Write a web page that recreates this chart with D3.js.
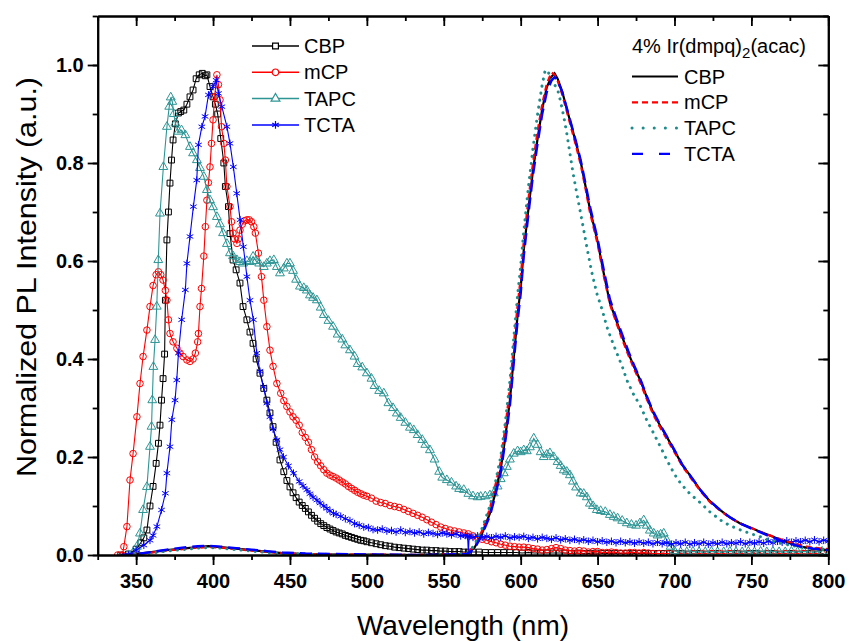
<!DOCTYPE html>
<html>
<head>
<meta charset="utf-8">
<script src="https://cdn.jsdelivr.net/npm/d3@7"></script>
<style>
  body { margin: 0; background: #fff; }
  text { font-family: "Liberation Sans", Arial, sans-serif; }
</style>
</head>
<body>
<svg id="chart"></svg>
<script>
// host fluorescence (with markers), [wavelength nm, normalized PL]
const cbpHost = [[340,0],[345,0.002],[350,0.012],[353,0.025],[355,0.035],[357,0.051],[359,0.1],[361,0.14],[363,0.187],[364.5,0.228],[365.5,0.265],[366.5,0.316],[367.5,0.36],[368.5,0.41],[369,0.52],[370,0.643],[371,0.7],[372,0.759],[373,0.806],[374,0.847],[375.5,0.88],[377.5,0.902],[379,0.905],[381,0.908],[383,0.92],[385,0.935],[387,0.949],[389,0.972],[391,0.98],[393,0.983],[395,0.978],[396,0.98],[398,0.956],[400,0.935],[401.5,0.92],[403,0.9],[405,0.85],[407,0.8],[408,0.752],[410,0.711],[411,0.656],[413,0.602],[415,0.582],[417.5,0.555],[419.5,0.507],[422,0.48],[424,0.455],[426,0.432],[428,0.4],[430.5,0.371],[433,0.34],[435,0.316],[437,0.29],[439,0.262],[441,0.23],[443.5,0.194],[446,0.17],[448,0.152],[450,0.139],[452,0.127],[454,0.117],[456,0.108],[458,0.101],[460,0.095],[462,0.088],[464,0.081],[466,0.075],[468,0.069],[470,0.064],[472,0.06],[474,0.056],[476,0.053],[478,0.05],[480,0.047],[482,0.045],[484,0.043],[486,0.04],[488,0.038],[490,0.036],[492,0.034],[494,0.032],[496,0.03],[498,0.029],[500,0.027],[503,0.025],[506,0.023],[509,0.021],[512,0.019],[515,0.018],[518,0.016],[521,0.015],[524,0.014],[527,0.013],[530,0.012],[533,0.011],[536,0.01],[539,0.01],[542,0.009],[545,0.009],[548,0.008],[551,0.008],[554,0.007],[557,0.007],[560,0.007],[563,0.006],[566,0.006],[569,0.006],[573,0.006],[577,0.005],[581,0.005],[585,0.005],[589,0.005],[593,0.005],[597,0.005],[601,0.004],[605,0.005],[609,0.004],[613,0.004],[617,0.004],[621,0.004],[625,0.004],[629,0.004],[633,0.003],[637,0.004],[641,0.003],[645,0.003],[649,0.004],[653,0.003],[657,0.003],[661,0.003],[665,0.003],[669,0.003],[673,0.003],[677,0.003],[681,0.003],[685,0.003],[689,0.003],[693,0.003],[697,0.003],[701,0.003],[705,0.003],[709,0.002],[713,0.003],[717,0.003],[721,0.002],[725,0.003],[729,0.003],[733,0.002],[737,0.003],[741,0.003],[745,0.002],[749,0.003],[753,0.003],[757,0.002],[761,0.003],[765,0.003],[769,0.002],[773,0.003],[777,0.003],[781,0.002],[785,0.003],[789,0.003],[793,0.002],[797,0.003]];

const mcpHost = [[338,0],[341,0],[342,0.017],[344,0.058],[346,0.153],[348,0.207],[350.5,0.282],[352.5,0.35],[354.5,0.405],[357,0.459],[359,0.507],[361,0.55],[363,0.572],[364.5,0.578],[366,0.572],[367.5,0.561],[369,0.54],[370,0.52],[371,0.48],[372,0.452],[374,0.435],[376.5,0.422],[378.5,0.412],[380.5,0.405],[383,0.398],[385,0.395],[387,0.4],[388.5,0.412],[390,0.435],[390.5,0.452],[391.5,0.507],[392.5,0.544],[394,0.61],[395,0.67],[396,0.724],[397,0.76],[398,0.792],[399,0.84],[400,0.888],[401,0.935],[402.5,0.98],[403.5,0.96],[404.5,0.929],[405.5,0.874],[407,0.84],[408,0.806],[409,0.752],[411,0.711],[412,0.68],[413,0.657],[414,0.645],[415.5,0.636],[416.5,0.645],[417.5,0.663],[419,0.675],[420.5,0.682],[422,0.684],[423.5,0.684],[425,0.68],[426.5,0.67],[427.5,0.657],[429.5,0.616],[431.5,0.568],[433,0.52],[435,0.466],[437,0.418],[439,0.385],[441.5,0.35],[444,0.33],[446,0.315],[448,0.303],[450,0.292],[452,0.282],[454,0.275],[456,0.265],[458,0.25],[460,0.24],[462,0.23],[464,0.215],[466,0.2],[468,0.19],[470,0.182],[472,0.174],[474,0.167],[476,0.163],[478,0.16],[480,0.157],[482,0.153],[484,0.149],[486,0.145],[488,0.14],[490,0.136],[492,0.132],[494,0.128],[496,0.125],[498,0.122],[500,0.12],[503,0.116],[506,0.11],[509,0.107],[512,0.105],[515,0.101],[518,0.099],[521,0.097],[524,0.093],[527,0.089],[530,0.085],[533,0.081],[536,0.077],[539,0.072],[542,0.067],[545,0.062],[548,0.057],[551,0.054],[554,0.051],[557,0.049],[560,0.047],[563,0.045],[566,0.043],[569,0.039],[572,0.035],[575,0.032],[578,0.03],[581,0.027],[584,0.025],[587,0.022],[590,0.02],[593,0.018],[596,0.017],[599,0.016],[602,0.016],[605,0.015],[608,0.013],[611,0.012],[614,0.01],[617,0.011],[620,0.013],[623,0.015],[626,0.013],[629,0.01],[632,0.009],[635,0.008],[638,0.009],[641,0.008],[644,0.006],[647,0.007],[650,0.007],[653,0.005],[656,0.005],[659,0.006],[662,0.005],[665,0.004],[668,0.004],[671,0.005],[674,0.005],[677,0.004],[680,0.005],[683,0.004],[686,0.003],[690,0.003],[695,0.003],[700,0.003],[706,0.003],[712,0.003],[718,0.003],[724,0.003],[730,0.003],[736,0.003],[742,0.003],[748,0.003],[754,0.003],[760,0.003],[766,0.003],[772,0.003],[778,0.003],[784,0.003],[790,0.003],[796,0.003]];

const tapcHost = [[345,0],[348,0.005],[350.5,0.017],[352.5,0.044],[354.5,0.092],[357,0.139],[359,0.221],[360,0.262],[360.5,0.316],[361.2,0.384],[362.3,0.439],[363.4,0.507],[364.4,0.602],[365.5,0.697],[367.7,0.792],[370,0.874],[371.5,0.915],[372.5,0.934],[373.5,0.925],[374.5,0.9],[375.5,0.881],[377.5,0.864],[379.5,0.867],[382,0.857],[385,0.833],[387,0.82],[389.5,0.806],[391.5,0.79],[394,0.772],[396,0.745],[398,0.724],[400,0.71],[402.5,0.69],[404.5,0.675],[406.5,0.657],[409,0.635],[411,0.616],[413,0.61],[415.5,0.602],[417.5,0.598],[419.5,0.595],[422,0.6],[424,0.598],[426,0.609],[428,0.6],[430,0.595],[433,0.588],[435,0.595],[437,0.6],[439.5,0.602],[441.5,0.588],[443.5,0.575],[446,0.585],[448,0.595],[450,0.595],[452,0.58],[454,0.562],[456.5,0.548],[459,0.545],[461,0.54],[463,0.53],[465,0.525],[467.5,0.52],[470,0.505],[472,0.49],[475,0.478],[478,0.466],[481,0.45],[484,0.44],[486,0.428],[489,0.418],[492,0.405],[494,0.39],[497,0.383],[500,0.371],[503,0.36],[505,0.345],[508,0.335],[511,0.33],[514,0.31],[517,0.3],[519.5,0.289],[522,0.28],[525,0.27],[528,0.26],[530.5,0.255],[533,0.245],[536,0.235],[538,0.225],[541,0.214],[544,0.195],[547,0.17],[549,0.158],[552,0.153],[555,0.148],[558,0.14],[560,0.135],[563,0.133],[566,0.125],[569,0.12],[572,0.118],[574,0.119],[577,0.12],[580,0.122],[582.5,0.126],[585,0.14],[587,0.155],[589,0.167],[591,0.18],[593,0.195],[595.5,0.207],[598,0.212],[600,0.21],[602,0.214],[604,0.212],[606,0.22],[608.5,0.238],[611,0.225],[613,0.21],[615,0.2],[617,0.205],[619,0.208],[621.5,0.2],[624,0.19],[626,0.182],[628,0.173],[630,0.17],[632,0.163],[634,0.15],[636,0.138],[639,0.126],[641,0.125],[643,0.118],[645,0.105],[647,0.1],[649.5,0.092],[652,0.09],[655,0.088],[658,0.082],[660.5,0.078],[663,0.075],[666,0.07],[669,0.065],[672,0.062],[675,0.06],[677.5,0.065],[680,0.071],[682,0.06],[684,0.05],[686.5,0.044],[689,0.04],[691,0.042],[693,0.044],[695,0.03],[697.5,0.017],[700,0.008],[704,0.006],[708,0.006],[712,0.007],[716,0.006],[720,0.006],[724,0.007],[728,0.006],[732,0.006],[736,0.007],[740,0.006],[744,0.006],[748,0.007],[752,0.006],[756,0.007],[760,0.006],[764,0.007],[768,0.006],[772,0.006],[776,0.007],[780,0.006],[784,0.007],[788,0.006],[792,0.006],[796,0.007]];

const tctaHost = [[345,0],[350,0.01],[355,0.02],[359,0.03],[361,0.04],[363.5,0.058],[366.5,0.092],[369,0.126],[370,0.167],[372,0.221],[373.2,0.276],[375.3,0.316],[376.4,0.357],[377.5,0.412],[379.6,0.48],[382,0.541],[383,0.595],[385,0.65],[387.2,0.711],[389.4,0.765],[390.5,0.837],[392.7,0.874],[394.8,0.895],[397,0.939],[400,0.956],[402,0.969],[403.5,0.942],[405.7,0.915],[409,0.874],[411,0.84],[413.2,0.792],[415.4,0.738],[417.6,0.684],[419.7,0.629],[422,0.568],[424,0.52],[426.2,0.48],[428.4,0.412],[430.5,0.375],[432.8,0.343],[435,0.31],[437,0.282],[439,0.257],[441.5,0.235],[443.5,0.215],[445.8,0.2],[449,0.182],[452.3,0.167],[456,0.15],[458.5,0.141],[461,0.133],[463,0.125],[465,0.118],[467.5,0.112],[469.6,0.106],[472,0.1],[474,0.095],[476,0.09],[478.3,0.085],[480,0.083],[483,0.079],[486,0.074],[489,0.07],[492,0.064],[495,0.061],[498,0.057],[501,0.056],[504,0.052],[507,0.051],[510,0.053],[513,0.049],[516,0.05],[519,0.047],[522,0.051],[525,0.046],[528,0.048],[531,0.045],[534,0.047],[537,0.043],[540,0.046],[543,0.044],[546,0.042],[549,0.045],[552,0.043],[555,0.041],[558,0.043],[561,0.039],[564,0.04],[565.5,0.038],[566,0.003],[566.5,0.038],[569,0.036],[572,0.039],[575,0.036],[578,0.038],[581,0.035],[584,0.038],[587,0.036],[590,0.039],[593,0.035],[596,0.037],[599,0.036],[602,0.038],[605,0.034],[608,0.036],[611,0.033],[614,0.036],[617,0.034],[620,0.032],[623,0.035],[626,0.031],[629,0.033],[632,0.03],[635,0.032],[638,0.029],[641,0.031],[644,0.028],[647,0.03],[650,0.027],[653,0.029],[656,0.026],[659,0.028],[662,0.025],[665,0.028],[668,0.025],[671,0.027],[674,0.024],[677,0.027],[680,0.024],[683,0.026],[686,0.023],[689,0.026],[692,0.023],[695,0.025],[698,0.022],[701,0.025],[704,0.023],[707,0.026],[710,0.022],[713,0.025],[716,0.023],[719,0.026],[722,0.022],[725,0.025],[728,0.023],[731,0.026],[734,0.023],[737,0.025],[740,0.024],[743,0.027],[746,0.023],[749,0.026],[752,0.024],[755,0.027],[758,0.024],[761,0.028],[764,0.025],[767,0.028],[770,0.026],[773,0.029],[776,0.026],[779,0.029],[782,0.027],[785,0.03],[788,0.027],[791,0.031],[794,0.027],[797,0.03],[800,0.028]];

// 4% Ir(dmpq)2(acac) doped films (lines)
const irCBP = [[340,0],[350,0.002],[360,0.006],[370,0.01],[380,0.013],[390,0.016],[397,0.018],[405,0.016],[415,0.013],[425,0.01],[435,0.007],[445,0.004],[460,0.002],[480,0.001],[500,0.001],[540,0],[565,0.002],[570,0.015],[575,0.045],[580,0.085],[583,0.12],[587,0.175],[590,0.24],[593,0.316],[596,0.42],[598,0.49],[600,0.545],[602,0.622],[605,0.705],[608,0.785],[611,0.85],[614,0.91],[617,0.955],[620,0.976],[622,0.983],[624,0.972],[627,0.946],[630,0.91],[633,0.876],[636,0.84],[639,0.803],[642,0.755],[645,0.706],[650,0.64],[654,0.575],[658,0.515],[662,0.48],[666,0.445],[670,0.412],[674,0.382],[678,0.355],[682,0.322],[686,0.292],[690,0.268],[695,0.241],[700,0.213],[705,0.184],[710,0.163],[717,0.132],[723,0.11],[730,0.091],[736,0.077],[743,0.064],[750,0.055],[756,0.047],[762,0.04],[769,0.031],[775,0.024],[782,0.017],[790,0.013],[800,0.01]];

const irMCP = [[340,0],[350,0.001],[360,0.005],[370,0.009],[380,0.012],[390,0.015],[397,0.016],[405,0.015],[415,0.012],[425,0.009],[435,0.006],[445,0.004],[460,0.002],[480,0.001],[500,0.001],[540,0],[565,0.003],[570,0.018],[575,0.05],[580,0.095],[583,0.135],[587,0.19],[590,0.26],[593,0.34],[596,0.445],[598,0.51],[600,0.565],[602,0.64],[605,0.725],[608,0.8],[611,0.865],[614,0.92],[617,0.962],[620,0.985],[622,0.98],[624,0.968],[627,0.94],[630,0.905],[633,0.87],[636,0.835],[639,0.797],[642,0.75],[645,0.7],[650,0.635],[654,0.57],[658,0.512],[662,0.476],[666,0.44],[670,0.408],[674,0.378],[678,0.35],[682,0.318],[686,0.288],[690,0.264],[695,0.237],[700,0.21],[705,0.182],[710,0.16],[717,0.13],[723,0.108],[730,0.09],[736,0.076],[743,0.064],[750,0.055],[756,0.047],[762,0.04],[769,0.032],[775,0.026],[782,0.02],[790,0.015],[800,0.012]];

const irTAPC = [[340,0],[350,0.001],[360,0.004],[370,0.008],[380,0.011],[390,0.014],[397,0.015],[405,0.014],[415,0.011],[425,0.008],[435,0.005],[445,0.003],[460,0.002],[480,0.001],[500,0],[540,0],[565,0.003],[570,0.02],[575,0.055],[580,0.1],[583,0.14],[587,0.2],[590,0.27],[593,0.355],[596,0.46],[598,0.53],[600,0.59],[602,0.66],[605,0.75],[608,0.83],[611,0.9],[614,0.96],[616,0.99],[618,0.985],[620,0.97],[622,0.96],[624,0.95],[626,0.925],[628,0.895],[630,0.86],[632,0.82],[634,0.78],[636.5,0.738],[640,0.68],[643,0.629],[646,0.58],[649.5,0.534],[653,0.5],[656,0.466],[659,0.44],[662.5,0.412],[666,0.385],[669,0.357],[673,0.33],[678,0.303],[682,0.275],[686.5,0.248],[691,0.22],[695,0.194],[700,0.165],[704,0.146],[710,0.125],[717,0.106],[723,0.088],[730,0.071],[736,0.06],[743,0.051],[750,0.043],[756,0.037],[762,0.03],[769,0.024],[775,0.02],[782,0.016],[790,0.013],[800,0.01]];

const irTCTA = [[340,0],[350,0.002],[360,0.006],[370,0.011],[380,0.015],[390,0.018],[397,0.019],[405,0.017],[415,0.014],[425,0.011],[435,0.008],[445,0.005],[460,0.003],[480,0.002],[500,0.001],[540,0],[565,0.002],[570,0.013],[575,0.042],[580,0.08],[583,0.115],[587,0.168],[590,0.232],[593,0.305],[596,0.41],[598,0.478],[600,0.533],[602,0.61],[605,0.695],[608,0.775],[611,0.84],[614,0.9],[617,0.945],[620,0.968],[622,0.975],[624,0.968],[627,0.945],[630,0.912],[633,0.878],[636,0.843],[639,0.806],[642,0.76],[645,0.712],[650,0.645],[654,0.582],[658,0.522],[662,0.485],[666,0.45],[670,0.416],[674,0.385],[678,0.357],[682,0.324],[686,0.294],[690,0.27],[695,0.242],[700,0.214],[705,0.185],[710,0.163],[717,0.132],[723,0.11],[730,0.091],[736,0.077],[743,0.064],[750,0.054],[756,0.046],[762,0.038],[769,0.03],[775,0.023],[782,0.017],[790,0.013],[800,0.01]];

const hostNames = ["CBP", "mCP", "TAPC", "TCTA"];
const irTitle = "4% Ir(dmpq)";
const xTicks = [350, 400, 450, 500, 550, 600, 650, 700, 750, 800];
const yTicks = [0, 0.2, 0.4, 0.6, 0.8, 1.0];

const width = 849, height = 641;
const plotL = 97.7, plotR = 828.3, plotT = 16, plotB = 555;

const svg = d3.select("#chart")
  .attr("width", width)
  .attr("height", height);

const x = d3.scaleLinear().domain([325, 800]).range([plotL, plotR]);
const y = d3.scaleLinear().domain([0, 1.1]).range([plotB, plotT]);

svg.append("defs").append("clipPath").attr("id", "clip")
  .append("rect").attr("x", plotL).attr("y", plotT)
  .attr("width", plotR - plotL).attr("height", plotB - plotT);

const teal = "#1f8c8c";

const hostSeries = [
  {name: "CBP", data: cbpHost, color: "#000", symbol: d3.symbolSquare, size: 34},
  {name: "mCP", data: mcpHost, color: "#ff0000", symbol: d3.symbolCircle, size: 34},
  {name: "TAPC", data: tapcHost, color: "#2e9595", symbol: d3.symbolTriangle, size: 34},
  {name: "TCTA", data: tctaHost, color: "#0000ff", symbol: d3.symbolAsterisk, size: 40}
];

const irSeries = [
  {name: "CBP", data: irCBP, color: "#000", dash: null, width: 2.2},
  {name: "mCP", data: irMCP, color: "#ff0000", dash: "6,4", width: 2.2},
  {name: "TAPC", data: irTAPC, color: teal, dash: "0.1,7", width: 3, cap: "round"},
  {name: "TCTA", data: irTCTA, color: "#0000ff", dash: "12,6", width: 2.4}
];

const line = d3.line().x(d => x(d[0])).y(d => y(d[1]));

const plot = svg.append("g").attr("clip-path", "url(#clip)");

hostSeries.forEach(s => {
  const g = plot.append("g");
  g.append("path")
    .datum(s.data)
    .attr("d", line)
    .attr("fill", "none")
    .attr("stroke", s.color)
    .attr("stroke-width", 1.1);
  g.selectAll("path.m")
    .data(s.data)
    .enter()
    .append("path")
    .attr("class", "m")
    .attr("d", d3.symbol().type(s.symbol).size(s.size))
    .attr("transform", d => `translate(${x(d[0])},${y(d[1])})`)
    .attr("fill", "none")
    .attr("stroke", s.color)
    .attr("stroke-width", 1);
});

irSeries.forEach(s => {
  plot.append("path")
    .datum(s.data)
    .attr("d", line)
    .attr("fill", "none")
    .attr("stroke", s.color)
    .attr("stroke-width", s.width)
    .attr("stroke-dasharray", s.dash)
    .attr("stroke-linecap", s.cap || "butt");
});

// axes
function styleAxis(g) {
  g.select(".domain").attr("stroke-width", 2);
  g.selectAll(".tick line").attr("stroke-width", 1.8);
  g.selectAll(".tick text")
    .attr("font-size", 20)
    .attr("font-weight", "bold")
    .attr("font-family", "'Liberation Sans', Arial, sans-serif");
}

const minorX = d3.range(325, 801, 25);
const minorY = d3.range(0, 1.11, 0.1);

svg.append("g").attr("transform", `translate(0,${plotB})`)
  .call(d3.axisBottom(x).tickValues(minorX).tickSize(5).tickFormat("").tickSizeOuter(0))
  .call(styleAxis);
svg.append("g").attr("transform", `translate(0,${plotB})`)
  .call(d3.axisBottom(x).tickValues(xTicks).tickSize(10).tickPadding(9).tickFormat(d3.format("d")).tickSizeOuter(0))
  .call(styleAxis);

svg.append("g").attr("transform", `translate(0,${plotT})`)
  .call(d3.axisTop(x).tickValues(minorX).tickSize(-5).tickFormat("").tickSizeOuter(0))
  .call(styleAxis);
svg.append("g").attr("transform", `translate(0,${plotT})`)
  .call(d3.axisTop(x).tickValues(xTicks).tickSize(-10).tickFormat("").tickSizeOuter(0))
  .call(styleAxis);

svg.append("g").attr("transform", `translate(${plotL},0)`)
  .call(d3.axisLeft(y).tickValues(minorY).tickSize(5).tickFormat("").tickSizeOuter(0))
  .call(styleAxis);
svg.append("g").attr("transform", `translate(${plotL},0)`)
  .call(d3.axisLeft(y).tickValues(yTicks).tickSize(10).tickPadding(4).tickFormat(d3.format(".1f")).tickSizeOuter(0))
  .call(styleAxis);

svg.append("g").attr("transform", `translate(${plotR},0)`)
  .call(d3.axisRight(y).tickValues(minorY).tickSize(-5).tickFormat("").tickSizeOuter(0))
  .call(styleAxis);
svg.append("g").attr("transform", `translate(${plotR},0)`)
  .call(d3.axisRight(y).tickValues(yTicks).tickSize(-10).tickFormat("").tickSizeOuter(0))
  .call(styleAxis);

// axis titles
svg.append("text")
  .attr("x", (plotL + plotR) / 2)
  .attr("y", 635)
  .attr("text-anchor", "middle")
  .attr("font-size", 28)
  .text("Wavelength (nm)");

svg.append("text")
  .attr("transform", `translate(36,277) rotate(-90)`)
  .attr("text-anchor", "middle")
  .attr("font-size", 28)
  .attr("textLength", 400)
  .attr("lengthAdjust", "spacingAndGlyphs")
  .text("Normalized PL Intensity (a.u.)");

// host legend
const leg1 = svg.append("g");
hostSeries.forEach((s, i) => {
  const ly = 46 + i * 26.3;
  leg1.append("line")
    .attr("x1", 252).attr("x2", 299).attr("y1", ly).attr("y2", ly)
    .attr("stroke", s.color).attr("stroke-width", 1.5);
  leg1.append("path")
    .attr("d", d3.symbol().type(s.symbol).size(s.size))
    .attr("transform", `translate(275.5,${ly})`)
    .attr("fill", s.symbol === d3.symbolAsterisk ? "none" : "#fff")
    .attr("stroke", s.color).attr("stroke-width", 1.2);
  leg1.append("text")
    .attr("x", 304).attr("y", ly + 7)
    .attr("font-size", 20)
    .text(hostNames[i]);
});

// Ir legend
const leg2 = svg.append("g");
const title = leg2.append("text")
  .attr("x", 632).attr("y", 53)
  .attr("font-size", 20);
title.append("tspan").text(irTitle);
title.append("tspan").attr("font-size", 15).attr("dy", 5).text("2");
title.append("tspan").attr("dy", -5).text("(acac)");

irSeries.forEach((s, i) => {
  const ly = 76.5 + i * 25.8;
  leg2.append("line")
    .attr("x1", 632).attr("x2", 678).attr("y1", ly).attr("y2", ly)
    .attr("stroke", s.color)
    .attr("stroke-width", s.width)
    .attr("stroke-dasharray", s.name === "TAPC" ? "0.1,11" : (s.name === "TCTA" ? "11,16" : s.dash))
    .attr("stroke-linecap", s.cap || "butt");
  leg2.append("text")
    .attr("x", 684).attr("y", ly + 7)
    .attr("font-size", 20)
    .text(hostNames[i]);
});
</script>
</body>
</html>
